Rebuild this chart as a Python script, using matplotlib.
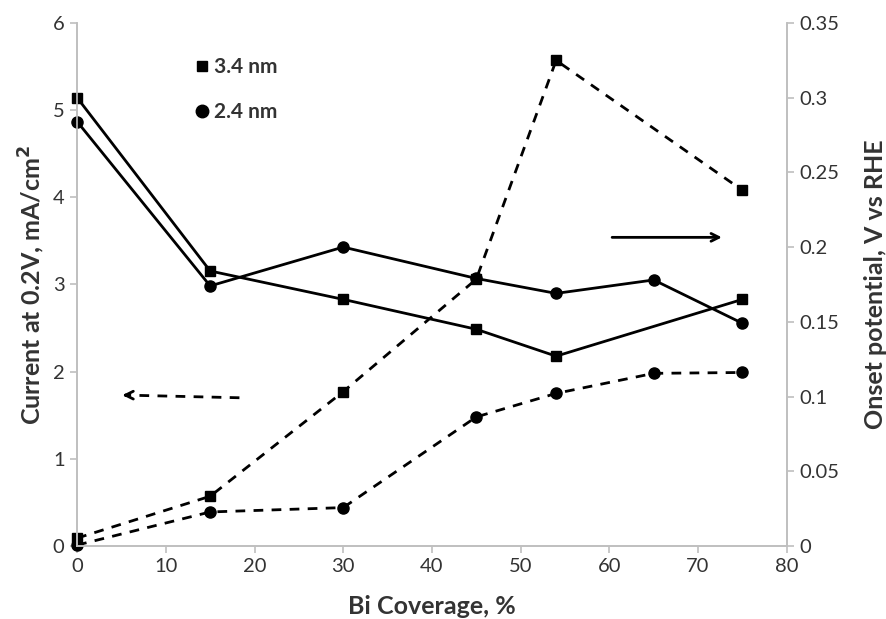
import matplotlib
matplotlib.use("Agg")
import matplotlib.pyplot as plt
from matplotlib.lines import Line2D

plt.rcParams['font.family'] = ['Lato', 'DejaVu Sans']

# Bi coverage (%)
cov_34 = [0, 15, 30, 45, 54, 75]
cov_24 = [0, 15, 30, 45, 54, 65, 75]

# current at 0.2 V, mA/cm2 (dashed, left axis)
cur_34 = [0.09, 0.57, 1.77, 3.06, 5.57, 4.08]
cur_24 = [0.01, 0.39, 0.44, 1.48, 1.75, 1.98, 1.99]

# onset potential, V vs RHE (solid, right axis)
onset_34 = [0.300, 0.184, 0.165, 0.145, 0.127, 0.165]
onset_24 = [0.284, 0.174, 0.200, 0.179, 0.169, 0.178, 0.149]

gray = '#BFBFBF'
txt = '#333333'

fig = plt.figure(figsize=(8.86, 6.19), dpi=100)
ax = fig.add_axes([0.087, 0.118, 0.801, 0.845])
ax2 = ax.twinx()

dash = (0, (3.5, 3))
ax.plot(cov_34, cur_34, color='black', lw=2, ls=dash, marker='s', ms=7.5, clip_on=False)
ax.plot(cov_24, cur_24, color='black', lw=2, ls=dash, marker='o', ms=8, clip_on=False)
ax2.plot(cov_34, onset_34, color='black', lw=2, marker='s', ms=7.5, clip_on=False)
ax2.plot(cov_24, onset_24, color='black', lw=2, marker='o', ms=8, clip_on=False)

ax.set_xlim(0, 80)
ax.set_ylim(0, 6)
ax2.set_ylim(0, 0.35)
ax.set_xticks(range(0, 81, 10))
ax.set_yticks(range(0, 7))
ax2.set_yticks([0, 0.05, 0.1, 0.15, 0.2, 0.25, 0.3, 0.35])
ax2.set_yticklabels(['0', '0.05', '0.1', '0.15', '0.2', '0.25', '0.3', '0.35'])

for a in (ax, ax2):
    for s in a.spines.values():
        s.set_color(gray)
        s.set_linewidth(1.2)
    a.spines['top'].set_visible(False)
    a.tick_params(colors=gray, labelcolor=txt, labelsize=14.5, length=5, width=1.2, pad=4)

ax.set_xlabel('Bi Coverage, %', fontsize=18, fontweight='bold', color=txt, labelpad=14)
ax.set_ylabel('Current at 0.2V, mA/cm$^{\\mathbf{2}}$', fontsize=18, fontweight='bold', color=txt, labelpad=4)
ax2.set_ylabel('Onset potential, V vs RHE', fontsize=18, fontweight='bold', color=txt, labelpad=18)

# arrows pointing to the axis each line type belongs to
ax.plot([18.3, 5.6], [1.70, 1.73], color='black', lw=2, ls=(0, (3.5, 3)))
ax.annotate('', xy=(4.8, 1.73), xytext=(6.0, 1.73),
            arrowprops=dict(arrowstyle='->', color='black', lw=2, mutation_scale=14))
ax.annotate('', xy=(73, 3.54), xytext=(60, 3.54),
            arrowprops=dict(arrowstyle='->', color='black', lw=2, mutation_scale=14))

handles = [Line2D([], [], color='black', marker='s', ls='none', ms=7.5),
           Line2D([], [], color='black', marker='o', ls='none', ms=9)]
leg = ax.legend(handles, ['3.4 nm', '2.4 nm'], loc='upper left', bbox_to_anchor=(0.135, 0.97),
                frameon=False, handletextpad=0.05, handlelength=1.0, labelspacing=1.2,
                prop={'size': 15, 'weight': 'bold'})
for t in leg.get_texts():
    t.set_color(txt)

fig.savefig('out.png', dpi=100)
